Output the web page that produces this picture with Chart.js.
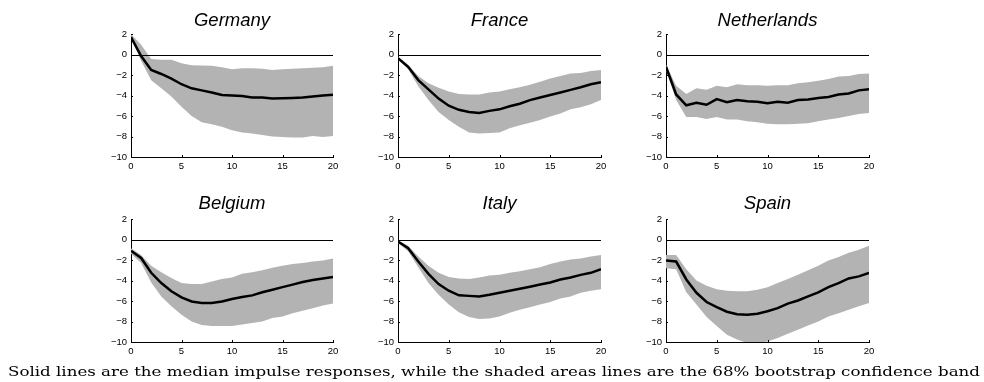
<!DOCTYPE html>
<html><head><meta charset="utf-8">
<script src="https://cdn.jsdelivr.net/npm/chart.js@4.4.1/dist/chart.umd.min.js"></script>
<style>
html,body{margin:0;padding:0;background:#fff;}
body{width:984px;height:382px;position:relative;overflow:hidden;}
canvas{position:absolute;}
#cap{position:absolute;left:8px;top:365px;font-family:'DejaVu Serif';font-size:13.5px;line-height:13.5px;white-space:nowrap;transform-origin:0 0;color:#000;}
</style></head><body>
<canvas id="c0"></canvas><canvas id="c1"></canvas><canvas id="c2"></canvas>
<canvas id="c3"></canvas><canvas id="c4"></canvas><canvas id="c5"></canvas>
<div id="cap">Solid lines are the median impulse responses, while the shaded areas lines are the 68% bootstrap confidence band</div>
<script>
const horizons = [0,1,2,3,4,5,6,7,8,9,10,11,12,13,14,15,16,17,18,19,20];
const xTicks = [0,5,10,15,20];
const yTicks = [2,0,-2,-4,-6,-8,-10];
const countries = ['Germany','France','Netherlands','Belgium','Italy','Spain'];

const germanyMedian = [1.7,-0.15,-1.5,-1.9,-2.35,-2.9,-3.3,-3.5,-3.7,-3.95,-4.0,-4.05,-4.2,-4.2,-4.3,-4.28,-4.25,-4.2,-4.1,-4.0,-3.93];
const germanyUpper  = [2.0,0.95,-0.45,-0.5,-0.5,-0.85,-1.05,-1.08,-1.1,-1.25,-1.45,-1.35,-1.35,-1.4,-1.5,-1.45,-1.4,-1.35,-1.3,-1.25,-1.1];
const germanyLower  = [1.6,-0.6,-2.5,-3.3,-4.1,-5.1,-6.0,-6.6,-6.8,-7.05,-7.4,-7.6,-7.7,-7.85,-8.0,-8.05,-8.1,-8.1,-7.95,-8.05,-7.95];

const franceMedian = [-0.35,-1.2,-2.5,-3.4,-4.3,-5.0,-5.4,-5.6,-5.7,-5.5,-5.35,-5.05,-4.8,-4.45,-4.2,-3.95,-3.7,-3.45,-3.2,-2.9,-2.7];
const franceUpper  = [-0.25,-1.0,-2.1,-2.8,-3.25,-3.6,-3.85,-3.9,-3.9,-3.7,-3.6,-3.4,-3.2,-2.95,-2.65,-2.35,-2.1,-1.85,-1.8,-1.6,-1.5];
const franceLower  = [-0.5,-1.45,-3.1,-4.45,-5.6,-6.4,-7.05,-7.6,-7.7,-7.65,-7.6,-7.2,-6.9,-6.65,-6.4,-6.05,-5.75,-5.35,-5.15,-4.85,-4.45];

const netherlandsMedian = [-1.2,-3.9,-4.95,-4.7,-4.9,-4.35,-4.65,-4.45,-4.55,-4.6,-4.75,-4.6,-4.7,-4.45,-4.4,-4.25,-4.15,-3.9,-3.8,-3.5,-3.4];
const netherlandsUpper  = [-1.0,-3.05,-3.85,-3.3,-3.45,-3.05,-3.2,-2.9,-3.0,-3.0,-3.05,-3.0,-3.0,-2.8,-2.7,-2.55,-2.4,-2.15,-2.1,-1.9,-1.85];
const netherlandsLower  = [-1.5,-4.45,-6.1,-6.1,-6.3,-6.1,-6.35,-6.35,-6.5,-6.6,-6.75,-6.8,-6.8,-6.75,-6.7,-6.5,-6.35,-6.2,-6.0,-5.8,-5.7];

const belgiumMedian = [-1.1,-1.8,-3.25,-4.25,-5.05,-5.65,-6.05,-6.2,-6.2,-6.05,-5.8,-5.6,-5.45,-5.15,-4.9,-4.65,-4.4,-4.15,-3.95,-3.8,-3.65];
const belgiumUpper  = [-0.85,-1.5,-2.55,-3.2,-3.75,-4.25,-4.35,-4.35,-4.1,-3.85,-3.7,-3.35,-3.2,-3.0,-2.75,-2.55,-2.4,-2.3,-2.15,-2.05,-1.85];
const belgiumLower  = [-1.4,-2.3,-4.2,-5.55,-6.5,-7.35,-8.0,-8.35,-8.45,-8.45,-8.45,-8.3,-8.15,-8.0,-7.65,-7.5,-7.2,-6.95,-6.7,-6.45,-6.25];

const italyMedian = [-0.2,-0.85,-2.15,-3.35,-4.35,-5.0,-5.45,-5.5,-5.55,-5.4,-5.2,-5.0,-4.8,-4.6,-4.4,-4.2,-3.9,-3.7,-3.45,-3.25,-2.9];
const italyUpper  = [-0.1,-0.6,-1.65,-2.55,-3.25,-3.65,-3.8,-3.85,-3.7,-3.5,-3.45,-3.25,-3.1,-2.9,-2.7,-2.4,-2.15,-1.95,-1.85,-1.65,-1.5];
const italyLower  = [-0.35,-1.15,-2.7,-4.25,-5.4,-6.35,-7.1,-7.55,-7.75,-7.7,-7.5,-7.15,-6.85,-6.6,-6.35,-6.1,-5.75,-5.55,-5.2,-5.0,-4.85];

const spainMedian = [-2.05,-2.15,-3.9,-5.2,-6.1,-6.6,-7.05,-7.3,-7.35,-7.25,-7.0,-6.7,-6.25,-5.95,-5.55,-5.15,-4.65,-4.25,-3.8,-3.6,-3.25];
const spainUpper  = [-1.5,-1.5,-2.9,-4.0,-4.5,-4.85,-5.0,-5.05,-5.05,-4.9,-4.65,-4.25,-3.85,-3.45,-3.0,-2.55,-2.05,-1.7,-1.3,-1.0,-0.6];
const spainLower  = [-2.8,-2.9,-5.15,-6.35,-7.55,-8.45,-9.3,-9.75,-10.1,-10.1,-9.95,-9.6,-9.2,-8.8,-8.4,-8.0,-7.5,-7.2,-6.85,-6.5,-6.2];

const medians = [germanyMedian,franceMedian,netherlandsMedian,belgiumMedian,italyMedian,spainMedian];
const uppers  = [germanyUpper,franceUpper,netherlandsUpper,belgiumUpper,italyUpper,spainUpper];
const lowers  = [germanyLower,franceLower,netherlandsLower,belgiumLower,italyLower,spainLower];

// layout: [canvas left, canvas top, plot width, plot height, title offset]
const panels = [
  [91, 0, 202, 123, 8],
  [358, 0, 203, 123, 8],
  [626, 0, 203, 123, 8],
  [91, 185, 202, 123, 10],
  [358, 185, 203, 123, 10],
  [626, 185, 203, 123, 10]
];
const AXW = 40, TOPPAD = 34, XAXH = 22, RPAD = 12;
const BAND = '#b3b3b3';
const tickFont = {family:'Liberation Sans', size:9.5};
const fmt = v => (v < 0 ? '\u2212' + Math.abs(v) : String(v));
const pts = arr => arr.map((v,i) => ({x: horizons[i], y: v}));

const decor = {
  id:'decor',
  beforeDatasetDraw(chart, args){
    if (args.index !== 0) return;
    const {ctx, chartArea:a, scales:{y}} = chart;
    ctx.save();
    ctx.strokeStyle = '#000'; ctx.lineWidth = 1;
    const y0 = Math.round(y.getPixelForValue(0)) + 0.5;
    ctx.beginPath(); ctx.moveTo(a.left, y0); ctx.lineTo(a.right, y0); ctx.stroke();
    ctx.restore();
  },
  afterDraw(chart, args, opts){
    const {ctx, chartArea:a, scales:{x,y}} = chart;
    ctx.save();
    ctx.strokeStyle = '#000'; ctx.lineWidth = 1;
    ctx.beginPath();
    xTicks.forEach(t => { const px = Math.round(x.getPixelForValue(t)) + 0.5; ctx.moveTo(px, a.bottom); ctx.lineTo(px, a.bottom - 2); });
    yTicks.forEach(t => { const py = Math.round(y.getPixelForValue(t)) + 0.5; ctx.moveTo(a.left, py); ctx.lineTo(a.left + 2, py); });
    ctx.stroke();
    ctx.fillStyle = '#000';
    ctx.font = 'italic 18.5px "Liberation Sans"';
    ctx.textAlign = 'center'; ctx.textBaseline = 'alphabetic';
    ctx.fillText(opts.text, (a.left + a.right) / 2, a.top - opts.offset);
    ctx.restore();
  }
};

panels.forEach((p, k) => {
  const [cl, ct, pw, ph, toff] = p;
  const cv = document.getElementById('c' + k);
  cv.width = AXW + pw + RPAD; cv.height = TOPPAD + ph + XAXH;
  cv.style.left = cl + 'px'; cv.style.top = ct + 'px';
  cv.style.width = cv.width + 'px'; cv.style.height = cv.height + 'px';
  new Chart(cv, {
    type:'line',
    data:{datasets:[
      {data:pts(medians[k]), borderWidth:2.5, pointRadius:0, fill:false, borderColor:'#000', tension:0, order:0},
      {data:pts(lowers[k]), borderWidth:0, pointRadius:0, fill:false, borderColor:BAND, order:1},
      {data:pts(uppers[k]), borderWidth:0, pointRadius:0, fill:'-1', backgroundColor:BAND, borderColor:BAND, order:2}
    ]},
    options:{
      responsive:false, animation:false, devicePixelRatio:1,
      layout:{padding:{top:TOPPAD, right:RPAD, left:0, bottom:0}},
      plugins:{legend:{display:false}, tooltip:{enabled:false}, title:{display:false},
               decor:{text:countries[k], offset:toff}},
      scales:{
        x:{type:'linear', min:0, max:20,
           afterBuildTicks: s => { s.ticks = xTicks.map(v => ({value:v})); },
           ticks:{font:tickFont, color:'#000', padding:4, maxRotation:0, autoSkip:false},
           grid:{display:true, drawOnChartArea:false, drawTicks:false},
           border:{display:true, color:'#000', width:1},
           afterFit: s => { s.height = XAXH; }},
        y:{type:'linear', min:-10, max:2,
           afterBuildTicks: s => { s.ticks = yTicks.map(v => ({value:v})); },
           ticks:{font:tickFont, color:'#000', padding:4, callback: v => fmt(v), autoSkip:false},
           grid:{display:true, drawOnChartArea:false, drawTicks:false},
           border:{display:true, color:'#000', width:1},
           afterFit: s => { s.width = AXW; }}
      }
    },
    plugins:[decor]
  });
});

const cap = document.getElementById('cap');
const w = cap.getBoundingClientRect().width;
cap.style.transform = 'scaleX(' + (972 / w) + ')';
</script>
</body></html>
